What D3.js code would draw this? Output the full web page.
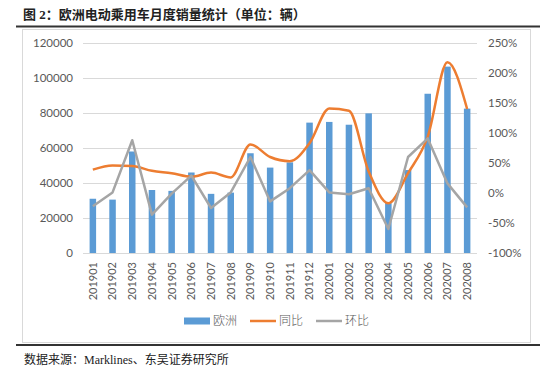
<!DOCTYPE html>
<html>
<head>
<meta charset="utf-8">
<script src="https://cdn.jsdelivr.net/npm/d3@7"></script>
<style>
  body { margin: 0; background: #fff; }
  svg { display: block; }
</style>
</head>
<body>
<svg id="chart" width="558" height="375"></svg>
<script>
// monthly sales (vehicles), yoy % and mom %
const months = ['201901','201902','201903','201904','201905','201906','201907','201908','201909','201910',
                '201911','201912','202001','202002','202003','202004','202005','202006','202007','202008']
const sales = [31000, 30500, 58000, 36000, 35500, 46000, 33800, 34500, 57000, 48800,
               51800, 74500, 74900, 73300, 79800, 28500, 47400, 91000, 106500, 82500]
const yoy = [39, 46, 45, 37, 33, 27, 34, 26, 81, 60, 53, 83, 141, 137, 36, -17, 33, 94, 218, 140]
const mom = [-22, 1, 88, -36, -1, 29, -25, 1, 60, -14, 8, 38, 1, -2, 8, -60, 60, 91, 16, -24]
const leftTicks = [0, 20000, 40000, 60000, 80000, 100000, 120000]
const rightTicks = [-100, -50, 0, 50, 100, 150, 200, 250]
const legendNames = ['欧洲', '同比', '环比']

const svg = d3.select('#chart')
const axisFont = 'Lato, "Liberation Sans", sans-serif'
const cjkFont = '"Noto Sans CJK SC", sans-serif'

// title + rules
svg.append('text')
  .attr('x', 23).attr('y', 19)
  .style('font-family', '"Liberation Serif", "Noto Sans CJK SC", serif')
  .style('font-size', '13px')
  .style('font-weight', 'bold')
  .attr('fill', '#222')
  .text('图 2：欧洲电动乘用车月度销量统计（单位：辆）')

svg.append('line').attr('x1', 16).attr('x2', 540).attr('y1', 26.5).attr('y2', 26.5)
  .attr('stroke', '#333').attr('stroke-width', 2)
svg.append('rect').attr('x', 22.5).attr('y', 29.5).attr('width', 508).attr('height', 313)
  .attr('fill', '#fff').attr('stroke', '#d9d9d9')
svg.append('line').attr('x1', 16).attr('x2', 540).attr('y1', 345).attr('y2', 345)
  .attr('stroke', '#333').attr('stroke-width', 2)

svg.append('text')
  .attr('x', 24).attr('y', 364)
  .style('font-family', '"Liberation Serif", "Noto Sans CJK SC", serif')
  .style('font-size', '12px')
  .attr('fill', '#222')
  .text('数据来源：Marklines、东吴证券研究所')

// scales
const x = d3.scalePoint().domain(months).range([83, 477]).padding(0.5)
const y = d3.scaleLinear().domain([0, 120000]).range([253, 43])
const y2 = d3.scaleLinear().domain([-100, 250]).range([253, 43])

// gridlines
svg.append('g')
  .selectAll('line')
  .data(leftTicks)
  .enter()
  .append('line')
    .attr('x1', 83).attr('x2', 477)
    .attr('y1', d => Math.round(y(d)) + 0.5)
    .attr('y2', d => Math.round(y(d)) + 0.5)
    .attr('stroke', '#d9d9d9')

// left axis labels
svg.append('g')
  .selectAll('text')
  .data(leftTicks)
  .enter()
  .append('text')
    .attr('x', 73)
    .attr('y', d => y(d))
    .attr('dy', '0.35em')
    .attr('text-anchor', 'end')
    .style('font-family', axisFont)
    .style('font-size', '11.5px')
    .attr('fill', '#595959')
    .text(d => d)

// right axis labels
svg.append('g')
  .selectAll('text')
  .data(rightTicks)
  .enter()
  .append('text')
    .attr('x', 488)
    .attr('y', d => y2(d))
    .attr('dy', '0.35em')
    .style('font-family', axisFont)
    .style('font-size', '11.5px')
    .attr('fill', '#595959')
    .text(d => d + '%')

// x labels (rotated)
svg.append('g')
  .selectAll('text')
  .data(months)
  .enter()
  .append('text')
    .attr('transform', d => `translate(${x(d)}, 262) rotate(-90)`)
    .attr('text-anchor', 'end')
    .attr('dy', '0.35em')
    .style('font-family', axisFont)
    .style('font-size', '11px')
    .attr('fill', '#595959')
    .text(d => d)

// bars
const barW = 6.5
svg.append('g')
  .selectAll('rect')
  .data(sales)
  .enter()
  .append('rect')
    .attr('x', (d, i) => x(months[i]) - barW / 2)
    .attr('y', d => y(d))
    .attr('width', barW)
    .attr('height', d => y(0) - y(d))
    .attr('fill', '#5b9bd5')

// lines
const yoyLine = d3.line()
  .x((d, i) => x(months[i]))
  .y(d => y2(d))
  .curve(d3.curveMonotoneX)

const momLine = d3.line()
  .x((d, i) => x(months[i]))
  .y(d => y2(d))

svg.append('path')
  .datum(yoy)
  .attr('d', yoyLine)
  .attr('fill', 'none')
  .attr('stroke', '#ed7d31')
  .attr('stroke-width', 2.5)
  .attr('stroke-linejoin', 'round')

svg.append('path')
  .datum(mom)
  .attr('d', momLine)
  .attr('fill', 'none')
  .attr('stroke', '#a5a5a5')
  .attr('stroke-width', 2.5)
  .attr('stroke-linejoin', 'round')

// legend
const legend = svg.append('g').attr('transform', 'translate(0, 321)')
const legendColors = ['#5b9bd5', '#ed7d31', '#a5a5a5']
const legendX = [184, 250, 316]

legendNames.forEach((name, i) => {
  if (i === 0) {
    legend.append('rect')
      .attr('x', legendX[i]).attr('y', -3.5)
      .attr('width', 26).attr('height', 7)
      .attr('fill', legendColors[i])
  } else {
    legend.append('line')
      .attr('x1', legendX[i]).attr('x2', legendX[i] + 26)
      .attr('y1', 0).attr('y2', 0)
      .attr('stroke', legendColors[i])
      .attr('stroke-width', 2.5)
  }
  legend.append('text')
    .attr('x', legendX[i] + 29)
    .attr('y', 0)
    .attr('dy', '0.35em')
    .style('font-family', cjkFont)
    .style('font-size', '12px')
    .style('font-weight', 300)
    .attr('fill', '#595959')
    .text(name)
})
</script>
</body>
</html>
